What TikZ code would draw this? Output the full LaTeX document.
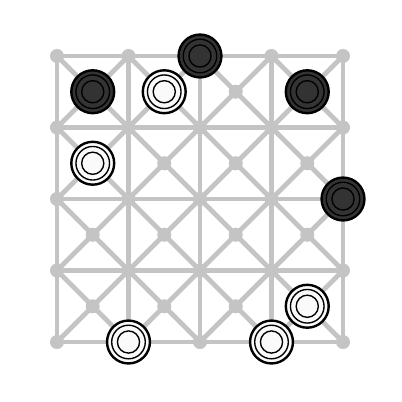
\documentclass[tikz,border=0pt]{standalone}
\usepackage{xcolor}
\usepackage{tikz}
\definecolor{boardgray}{HTML}{C4C4C4}
\definecolor{darkpiece}{HTML}{333333}
\definecolor{lightpiece}{HTML}{FAFAFA}

\begin{document}
\begin{tikzpicture}[
    x=2cm, y=-2cm,
    line/.style={draw=boardgray, line width=3.9pt},
    spot/.style={fill=boardgray},
    piece/.style={circle, draw=black, line width=1.9pt, minimum size=1.2cm, inner sep=0pt,
        path picture={
            \draw[black, line width=1.1pt] (path picture bounding box.center) circle (0.47cm);
            \draw[black, line width=1.1pt] (path picture bounding box.center) circle (0.31cm);
        }},
    blackpiece/.style={piece, fill=darkpiece},
    whitepiece/.style={piece, fill=lightpiece}
]
\useasboundingbox (-0.797,-0.783) rectangle (4.825,4.839);

% board lines
\foreach \i in {0,...,4} {
    \draw[line] (\i,0) -- (\i,4);
    \draw[line] (0,\i) -- (4,\i);
}
\foreach \i in {0,...,3} {
    \foreach \j in {0,...,3} {
        \draw[line] (\i,\j) -- (\i+1,\j+1);
        \draw[line] (\i+1,\j) -- (\i,\j+1);
        \fill[spot] (\i+0.5,\j+0.5) circle (0.196cm);
    }
}
\foreach \i in {0,...,4} {
    \foreach \j in {0,...,4} {
        \fill[spot] (\i,\j) circle (0.196cm);
    }
}

% pieces
\node[blackpiece] (b1) at (0.5,0.5) {};
\node[whitepiece] (w1) at (1.5,0.5) {};
\node[blackpiece] (b2) at (2,0) {};
\node[blackpiece] (b3) at (3.5,0.5) {};
\node[whitepiece] (w2) at (0.5,1.5) {};
\node[blackpiece] (b4) at (4,2) {};
\node[whitepiece] (w3) at (3.5,3.5) {};
\node[whitepiece] (w4) at (1,4) {};
\node[whitepiece] (w5) at (3,4) {};
\end{tikzpicture}
\end{document}
